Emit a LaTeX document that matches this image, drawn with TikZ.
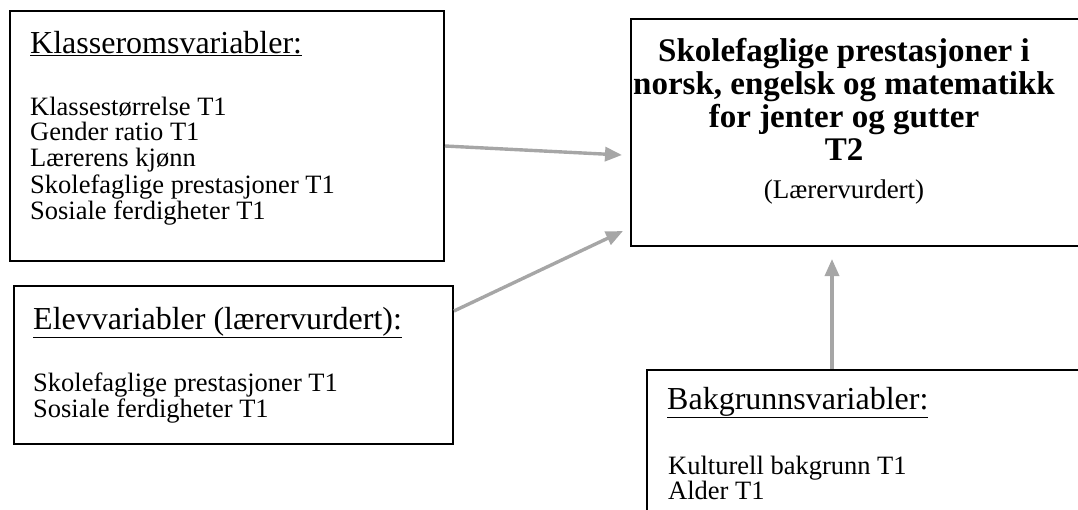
\documentclass[tikz,border=0pt]{standalone}
\usepackage{fontspec}
\setmainfont{Liberation Serif}
\usetikzlibrary{arrows.meta}
\definecolor{arrgray}{HTML}{A6A6A6}
\newcommand{\bodyfont}{\fontsize{26.5}{25.3}\selectfont}
\newcommand{\titlefont}{\fontsize{32}{36}\selectfont}
\newcommand{\boldfont}{\fontsize{33}{33}\selectfont\bfseries}
\newcommand{\lines}[1]{\begin{tabular}[t]{@{}l@{}}#1\end{tabular}}
\newcommand{\clines}[1]{\begin{tabular}[t]{@{}c@{}}#1\end{tabular}}
\tikzset{
  box/.style={draw=black, line width=2pt, fill=none, inner sep=0pt, anchor=north west},
  title/.style={anchor=base west, inner sep=0pt, font=\titlefont},
  body/.style={anchor=base west, inner sep=0pt, font=\bodyfont},
  arr/.style={draw=arrgray, line width=3.4pt, -{Triangle[length=17pt,width=14pt]}},
}
\begin{document}
\begin{tikzpicture}[x=1pt,y=-1pt]
\useasboundingbox (0,0) rectangle (1078,509);
\clip (0,0) rectangle (1078,509);
% boxes
\node[box, minimum width=434pt, minimum height=250pt] (b1) at (9,10) {};
\node[box, minimum width=439pt, minimum height=158pt] (b2) at (13,285) {};
\node[box, minimum width=470pt, minimum height=227pt] (b3) at (630,18) {};
\node[box, minimum width=460pt, minimum height=160pt] (b4) at (646,369) {};
% box 1 text
\node[title] (t1) at (30,53) {\underline{Klasseromsvariabler:}};
\node[body] (l1) at (30,115) {\lines{Klassestørrelse T1\\Gender ratio T1\\Lærerens kjønn\\Skolefaglige prestasjoner T1\\Sosiale ferdigheter T1}};
% box 2 text
\node[title] (t2) at (33,329) {\underline{Elevvariabler (lærervurdert):}};
\node[body] (l2) at (33,391) {\lines{Skolefaglige prestasjoner T1\\Sosiale ferdigheter T1}};
% box 3 text
\node[anchor=base, inner sep=0pt, font=\boldfont] (t3) at (844,61)
  {\clines{Skolefaglige prestasjoner i\\norsk, engelsk og matematikk\\for jenter og gutter}};
\node[anchor=base, inner sep=0pt, font=\boldfont] (t3b) at (844,160) {T2};
\node[anchor=base, inner sep=0pt, font=\fontsize{27}{29}\selectfont] (l3) at (844,198) {(Lærervurdert)};
% box 4 text
\node[title] (t4) at (667,409) {\underline{Bakgrunnsvariabler:}};
\node[body] (l4) at (668,474) {\lines{Kulturell bakgrunn T1\\Alder T1}};
% arrows
\draw[arr] ([yshift=-10pt]b1.east) -- ([xshift=-8pt,yshift=-22.5pt]b3.west);
\draw[arr] ([yshift=-26pt]b2.north east) -- ([xshift=-7pt,yshift=16pt]b3.south west);
\draw[arr] ([xshift=186pt]b4.north west) -- ([xshift=202pt,yshift=-12pt]b3.south west);
\end{tikzpicture}
\end{document}
